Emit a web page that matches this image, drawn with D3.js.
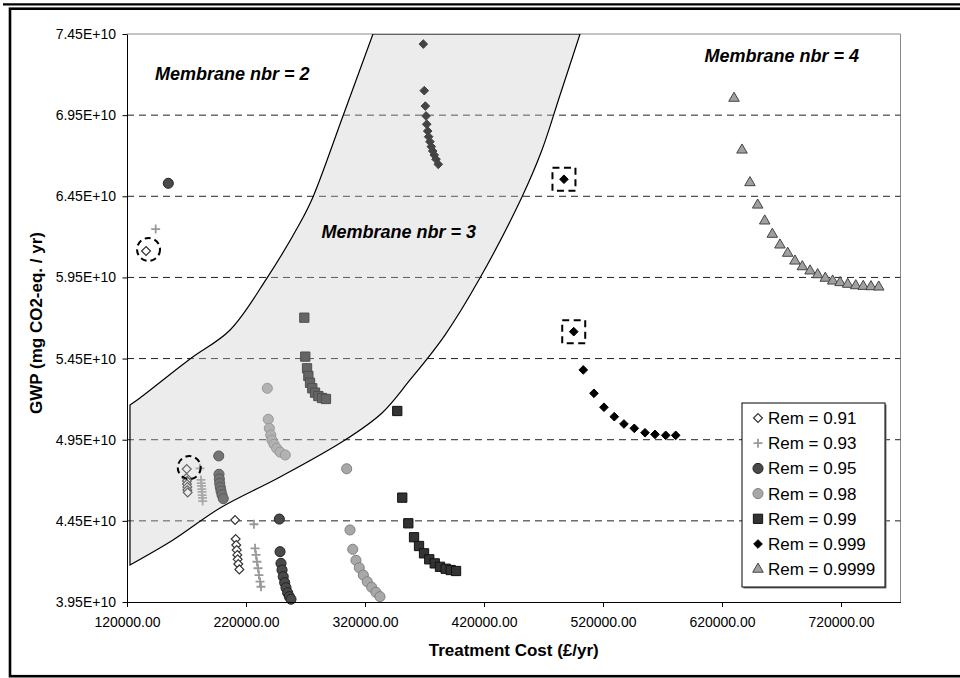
<!DOCTYPE html>
<html>
<head>
<meta charset="utf-8">
<script src="https://cdn.jsdelivr.net/npm/d3@7"></script>
<style>
    body { margin: 0; background: #fff; }
    svg text { font-family: "Liberation Sans", Arial, sans-serif; }
</style>
</head>
<body>
<svg id="chart" width="960" height="678"></svg>
<script>
/*jshint esversion: 6 */

///////////////////////////////
/// Data
///////////////////////////////

// Axis ticks
let xTicks = [120000, 220000, 320000, 420000, 520000, 620000, 720000];
let yTicks = [3.95e10, 4.45e10, 4.95e10, 5.45e10, 5.95e10, 6.45e10, 6.95e10, 7.45e10];

let seriesNames = ["Rem = 0.91", "Rem = 0.93", "Rem = 0.95", "Rem = 0.98", "Rem = 0.99", "Rem = 0.999", "Rem = 0.9999"];

// [treatment cost (£/yr), GWP (mg CO2-eq./yr)]
let rem091 = [
    [136000, 6.113e10],
    [170200, 4.769e10], [170000, 4.714e10], [170400, 4.696e10], [170400, 4.677e10], [170700, 4.659e10], [170700, 4.640e10], [171000, 4.625e10],
    [210800, 4.455e10], [211300, 4.338e10], [211800, 4.301e10], [212200, 4.270e10], [212700, 4.240e10], [213000, 4.213e10], [213500, 4.184e10], [214400, 4.151e10]
];
let rem093 = [
    [144100, 6.248e10],
    [181300, 4.774e10], [182200, 4.702e10], [182400, 4.683e10], [182600, 4.665e10], [182900, 4.646e10], [183000, 4.628e10], [183200, 4.609e10], [183400, 4.591e10], [183600, 4.572e10],
    [226700, 4.429e10], [227600, 4.281e10], [228400, 4.240e10], [229200, 4.198e10], [230100, 4.158e10], [230900, 4.116e10], [231800, 4.075e10], [232600, 4.044e10]
];
let rem095 = [
    [154700, 6.530e10],
    [197100, 4.850e10], [197300, 4.737e10], [197600, 4.708e10], [197900, 4.681e10], [198400, 4.657e10], [199000, 4.634e10], [199800, 4.611e10], [200900, 4.587e10],
    [248000, 4.461e10], [248600, 4.260e10], [249400, 4.188e10], [250300, 4.147e10], [251300, 4.106e10], [252500, 4.069e10], [253600, 4.038e10], [255000, 4.007e10], [256400, 3.983e10], [257800, 3.967e10]
];
let rem098 = [
    [237900, 5.267e10], [238700, 5.076e10], [239600, 5.020e10], [240800, 4.979e10], [241800, 4.948e10], [243500, 4.922e10], [245800, 4.897e10], [248600, 4.874e10], [253000, 4.856e10],
    [304600, 4.771e10], [307400, 4.394e10], [309700, 4.275e10], [312400, 4.207e10], [315200, 4.161e10], [318600, 4.116e10], [321900, 4.075e10], [325600, 4.041e10], [329200, 4.010e10], [332600, 3.983e10]
];
let rem099 = [
    [269000, 5.702e10], [269800, 5.462e10], [271300, 5.390e10], [272400, 5.343e10], [273800, 5.301e10], [275700, 5.267e10], [278000, 5.240e10], [280800, 5.219e10], [283900, 5.207e10], [287200, 5.201e10],
    [347100, 5.127e10], [351300, 4.593e10], [356400, 4.435e10], [361200, 4.349e10], [365400, 4.295e10], [369600, 4.250e10], [374000, 4.213e10], [378600, 4.188e10], [383000, 4.167e10], [387800, 4.155e10], [392000, 4.147e10], [396500, 4.141e10]
];
let rem0999 = [
    [369000, 7.388e10], [369800, 7.101e10], [370700, 7.006e10], [371300, 6.945e10], [371900, 6.894e10], [372700, 6.852e10], [373500, 6.817e10], [374600, 6.786e10], [375700, 6.756e10], [376900, 6.729e10], [378200, 6.704e10], [379700, 6.678e10], [381600, 6.647e10],
    [487200, 6.555e10], [495400, 5.616e10], [503400, 5.380e10], [512400, 5.236e10], [520800, 5.150e10], [529500, 5.092e10], [537600, 5.047e10], [546300, 5.020e10], [555300, 4.993e10], [563700, 4.983e10], [572700, 4.977e10], [581100, 4.977e10]
];
let rem09999 = [
    [630100, 7.054e10], [636800, 6.735e10], [643500, 6.534e10], [650000, 6.396e10], [655900, 6.298e10], [662300, 6.216e10], [668700, 6.150e10], [675200, 6.099e10], [681300, 6.051e10], [687500, 6.016e10],
    [694000, 5.990e10], [700400, 5.967e10], [706800, 5.945e10], [713000, 5.928e10], [719200, 5.918e10], [725600, 5.908e10], [732400, 5.899e10], [738700, 5.895e10], [745200, 5.893e10], [751700, 5.891e10]
];

// Shaded "Membrane nbr = 3" zone outline
let zoneLeft = [
    [122500, 5.164e10], [130900, 5.207e10], [172900, 5.447e10], [206600, 5.626e10], [237600, 5.946e10],
    [265400, 6.285e10], [276300, 6.446e10], [301500, 6.945e10], [326700, 7.45e10]
];
let zoneRight = [
    [500700, 7.45e10], [483900, 7.074e10], [468700, 6.735e10], [451900, 6.446e10], [416600, 5.946e10],
    [387200, 5.595e10], [357800, 5.318e10], [334300, 5.115e10], [303200, 4.948e10], [248600, 4.720e10],
    [198200, 4.529e10], [158700, 4.332e10], [122500, 4.178e10]
];

let zoneNames = ["Membrane nbr = 2", "Membrane nbr = 3", "Membrane nbr = 4"];

///////////////////////////////
/// Chart
///////////////////////////////

(function () {

    let allSeries = [rem091, rem093, rem095, rem098, rem099, rem0999, rem09999];

    let styles = [
        { type: d3.symbolDiamond2, size: 50, fill: "#fff", stroke: "#333", sw: 1.2 },
        { type: d3.symbolPlus, size: 28, fill: "none", stroke: "#999", sw: 1.8 },
        { type: d3.symbolCircle, size: 80, fill: "#4a4a4a", stroke: "#222", sw: 1 },
        { type: d3.symbolCircle, size: 80, fill: "#a8a8a8", stroke: "#808080", sw: 1 },
        { type: d3.symbolSquare, size: 86, fill: "#333", stroke: "#111", sw: 1 },
        { type: d3.symbolDiamond2, size: 48, fill: "#000", stroke: "#000", sw: 1 },
        { type: d3.symbolTriangle, size: 48, fill: "#a0a0a0", stroke: "#444", sw: 1 }
    ];

    let svg = d3.select("#chart");
    let pL = 127, pT = 34, pR = 900.5, pB = 602;

    let x = d3.scaleLinear().domain([120000, 770000]).range([pL, pR]);
    let y = d3.scaleLinear().domain([3.95e10, 7.45e10]).range([pB, pT]);

    // outer frame
    svg.append("line").attr("x1", 3).attr("x2", 960).attr("y1", 4.3).attr("y2", 4.3)
        .attr("stroke", "#000").attr("stroke-width", 2.2);
    svg.append("rect").attr("x", 10).attr("y", 8.7).attr("width", 960).attr("height", 667.5)
        .attr("fill", "none").attr("stroke", "#000").attr("stroke-width", 2.6);

    // plot area border (top / right)
    svg.append("path")
        .attr("d", "M" + pL + "," + pT + "H" + pR + "V" + pB)
        .attr("fill", "none").attr("stroke", "#8a8a8a").attr("stroke-width", 1);

    // gridlines
    svg.append("g").selectAll("line")
        .data(yTicks.slice(1, -1))
        .enter().append("line")
        .attr("x1", pL).attr("x2", pR)
        .attr("y1", d => y(d)).attr("y2", d => y(d))
        .attr("stroke", "#222").attr("stroke-width", 1)
        .attr("stroke-dasharray", "7,5");

    svg.append("defs").append("clipPath").attr("id", "plotclip")
        .append("rect").attr("x", pL).attr("y", pT).attr("width", pR - pL).attr("height", pB - pT);

    // points
    let symbolPath = function (s) {
        return d3.symbol().type(s.type).size(s.size)();
    };

    let pts = svg.append("g");
    allSeries.forEach(function (data, i) {
        let s = styles[i];
        pts.append("g").selectAll("path")
            .data(data)
            .enter().append("path")
            .attr("d", symbolPath(s))
            .attr("transform", d => "translate(" + x(d[0]) + "," + y(d[1]) + ")")
            .attr("fill", s.fill).attr("stroke", s.stroke).attr("stroke-width", s.sw);
    });

    // shaded zone (drawn on top, semi transparent)
    let curve = d3.line().x(d => x(d[0])).y(d => y(d[1])).curve(d3.curveCatmullRom.alpha(0.5));
    let zonePath = curve(zoneLeft) + curve(zoneRight).replace(/^M/, "L") + "Z";
    svg.append("path")
        .attr("d", zonePath)
        .attr("clip-path", "url(#plotclip)")
        .attr("fill", "rgb(200,200,200)").attr("fill-opacity", 0.34)
        .attr("stroke", "#000").attr("stroke-width", 1.2);

    // highlighted points
    let circled = [rem091[0], rem091[1]];
    let boxed = [rem0999[13], rem0999[14]];
    svg.append("g").selectAll("circle")
        .data(circled)
        .enter().append("circle")
        .attr("cx", d => x(d[0]) + 2.5).attr("cy", d => y(d[1]) - 1.5).attr("r", 11.5)
        .attr("fill", "none").attr("stroke", "#000").attr("stroke-width", 2)
        .attr("stroke-dasharray", "6,4");
    svg.append("g").selectAll("rect")
        .data(boxed)
        .enter().append("rect")
        .attr("x", d => x(d[0]) - 11.5).attr("y", d => y(d[1]) - 11.5)
        .attr("width", 23).attr("height", 23)
        .attr("fill", "none").attr("stroke", "#000").attr("stroke-width", 2)
        .attr("stroke-dasharray", "7,4.5");

    // zone labels
    let labelPos = [[143500, 7.1665e10, "start"], [413300, 6.196e10, "end"], [735100, 7.2805e10, "end"]];
    svg.append("g").selectAll("text")
        .data(zoneNames)
        .enter().append("text")
        .attr("x", (d, i) => x(labelPos[i][0]))
        .attr("y", (d, i) => y(labelPos[i][1]))
        .attr("text-anchor", (d, i) => labelPos[i][2])
        .attr("font-size", "18px").attr("font-weight", "bold").attr("font-style", "italic")
        .text(d => d);

    // axes
    let xAxis = d3.axisBottom(x).tickValues(xTicks).tickFormat(d3.format(".2f"))
        .tickSize(5).tickSizeOuter(0).tickPadding(10);
    let yAxis = d3.axisLeft(y).tickValues(yTicks).tickFormat(d => (d / 1e10).toFixed(2) + "E+10")
        .tickSize(4.5).tickSizeOuter(0).tickPadding(6.5);

    let gx = svg.append("g").attr("transform", "translate(0," + pB + ")").call(xAxis);
    let gy = svg.append("g").attr("transform", "translate(" + pL + ",0)").call(yAxis);
    [gx, gy].forEach(function (g) {
        g.selectAll("text").attr("font-size", "14px").attr("font-family", "Liberation Sans, Arial, sans-serif").attr("fill", "#000");
        g.selectAll("line, path").attr("stroke", "#000");
    });

    svg.append("text")
        .attr("x", (pL + pR) / 2).attr("y", 656)
        .attr("text-anchor", "middle").attr("font-size", "17px").attr("font-weight", "bold")
        .text("Treatment Cost (£/yr)");
    svg.append("text")
        .attr("transform", "translate(41.5," + ((pT + pB) / 2 + 5) + ") rotate(-90)")
        .attr("text-anchor", "middle").attr("font-size", "17px").attr("font-weight", "bold")
        .text("GWP (mg CO2-eq. / yr)");

    // legend
    let legend = svg.append("g").attr("transform", "translate(742,403)");
    legend.append("rect").attr("x", 1.5).attr("y", 1.5).attr("width", 143).attr("height", 184).attr("fill", "#777");
    legend.append("rect").attr("width", 143).attr("height", 184)
        .attr("fill", "#fff").attr("stroke", "#000").attr("stroke-width", 1);
    let items = legend.selectAll("g.item")
        .data(seriesNames)
        .enter().append("g")
        .attr("class", "item")
        .attr("transform", (d, i) => "translate(16," + (15 + i * 25.2) + ")");
    items.append("path")
        .attr("d", (d, i) => symbolPath(styles[i]))
        .attr("fill", (d, i) => styles[i].fill)
        .attr("stroke", (d, i) => styles[i].stroke)
        .attr("stroke-width", (d, i) => styles[i].sw);
    items.append("text")
        .attr("x", 10).attr("y", 6)
        .attr("font-size", "17px")
        .text(d => d);

})();
</script>
</body>
</html>
